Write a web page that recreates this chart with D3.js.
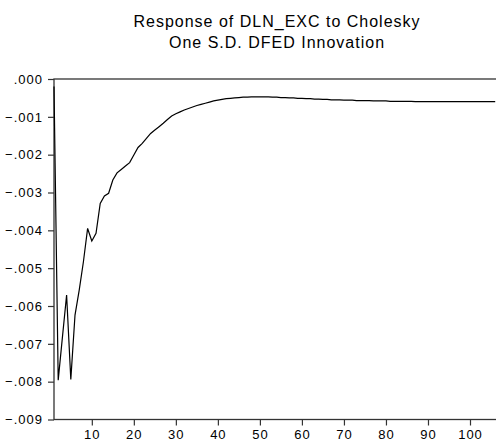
<!DOCTYPE html>
<html>
<head>
<meta charset="utf-8">
<script src="https://cdn.jsdelivr.net/npm/d3@7"></script>
<style>
  body { margin: 0; background: #fff; }
  svg { display: block; }
  .tick text { font-family: "Liberation Sans", Arial, sans-serif; font-size: 13px; letter-spacing: 1px; fill: #000; }
  .title { font-family: "Liberation Sans", Arial, sans-serif; font-size: 16px; letter-spacing: 1px; fill: #000; }
</style>
</head>
<body>
<div id="chart"></div>
<script>
// impulse response values, periods 1..106
const responseValues = [
  -0.00020, -0.00796, -0.00683, -0.00571, -0.00794, -0.00624, -0.00558, -0.00483, -0.00395, -0.00428,
  -0.00408, -0.00329, -0.00309, -0.00302, -0.00267, -0.00248, -0.00239, -0.00230, -0.00221, -0.00201,
  -0.00181, -0.00170, -0.00157, -0.00144, -0.00135, -0.00126, -0.00117, -0.00107, -0.00098, -0.00092,
  -0.00087, -0.00082, -0.00078, -0.00074, -0.00070, -0.00067, -0.00064, -0.00061, -0.00058, -0.00056,
  -0.00054, -0.00052, -0.00051, -0.00050, -0.00049, -0.00048, -0.00048, -0.00047, -0.00047, -0.00047,
  -0.00047, -0.00047, -0.00048, -0.00048, -0.00049, -0.00049, -0.00050, -0.00050, -0.00051, -0.00051,
  -0.00052, -0.00052, -0.00053, -0.00053, -0.00054, -0.00054, -0.00055, -0.00055, -0.00055, -0.00056,
  -0.00056, -0.00056, -0.00057, -0.00057, -0.00057, -0.00057, -0.00058, -0.00058, -0.00058, -0.00058,
  -0.00059, -0.00059, -0.00059, -0.00059, -0.00059, -0.00059, -0.00060, -0.00060, -0.00060, -0.00060,
  -0.00060, -0.00060, -0.00060, -0.00060, -0.00060, -0.00060, -0.00060, -0.00060, -0.00060, -0.00060,
  -0.00060, -0.00060, -0.00060, -0.00060, -0.00060, -0.00060
];
const periods = responseValues.map((d, i) => i + 1);

const xTicks = [10, 20, 30, 40, 50, 60, 70, 80, 90, 100];
const yTicks = [0, -0.001, -0.002, -0.003, -0.004, -0.005, -0.006, -0.007, -0.008, -0.009];
const titleLines = ["Response of DLN_EXC to Cholesky", "One S.D. DFED Innovation"];

const width = 496, height = 441;
const margin = {top: 79, left: 54};
const plotH = 340.5;

const svg = d3.select("#chart").append("svg")
    .attr("width", width)
    .attr("height", height);

// x(1) sits on the left axis, x(100) near the right edge; plot runs off the window
const x = d3.scaleLinear()
    .domain([1, 100])
    .range([margin.left, 470]);

const y = d3.scaleLinear()
    .domain([-0.009, 0])
    .range([margin.top + plotH, margin.top]);

const xEnd = x(107);

// frame
svg.append("rect")
    .attr("x", margin.left)
    .attr("y", margin.top)
    .attr("width", xEnd - margin.left)
    .attr("height", plotH)
    .attr("fill", "none")
    .attr("stroke", "#333")
    .attr("stroke-width", 1.3);

const fmt = d => d === 0 ? ".000" : d3.format(".3f")(d).replace("0.", ".");

const yAxis = d3.axisLeft(y)
    .tickValues(yTicks)
    .tickFormat(fmt)
    .tickSize(6)
    .tickPadding(5);

svg.append("g")
    .attr("class", "y-axis")
    .attr("transform", `translate(${margin.left},0)`)
    .call(yAxis)
    .call(g => g.select(".domain").remove())
    .call(g => g.selectAll(".tick line").attr("stroke", "#333").attr("stroke-width", 1.2));

const xAxis = d3.axisBottom(x)
    .tickValues(xTicks)
    .tickFormat(d3.format("d"))
    .tickSize(6)
    .tickPadding(4);

svg.append("g")
    .attr("class", "x-axis")
    .attr("transform", `translate(0,${margin.top + plotH})`)
    .call(xAxis)
    .call(g => g.select(".domain").remove())
    .call(g => g.selectAll(".tick line").attr("stroke", "#333").attr("stroke-width", 1.2));

// response line
const line = d3.line()
    .x((d, i) => x(periods[i]))
    .y(d => y(d));

svg.append("path")
    .datum(responseValues)
    .attr("fill", "none")
    .attr("stroke", "#000")
    .attr("stroke-width", 1.2)
    .attr("d", line);

// title
svg.selectAll(".title")
    .data(titleLines)
    .enter()
    .append("text")
    .attr("class", "title")
    .attr("x", 277)
    .attr("y", (d, i) => 27 + i * 21)
    .attr("text-anchor", "middle")
    .text(d => d);
</script>
</body>
</html>
